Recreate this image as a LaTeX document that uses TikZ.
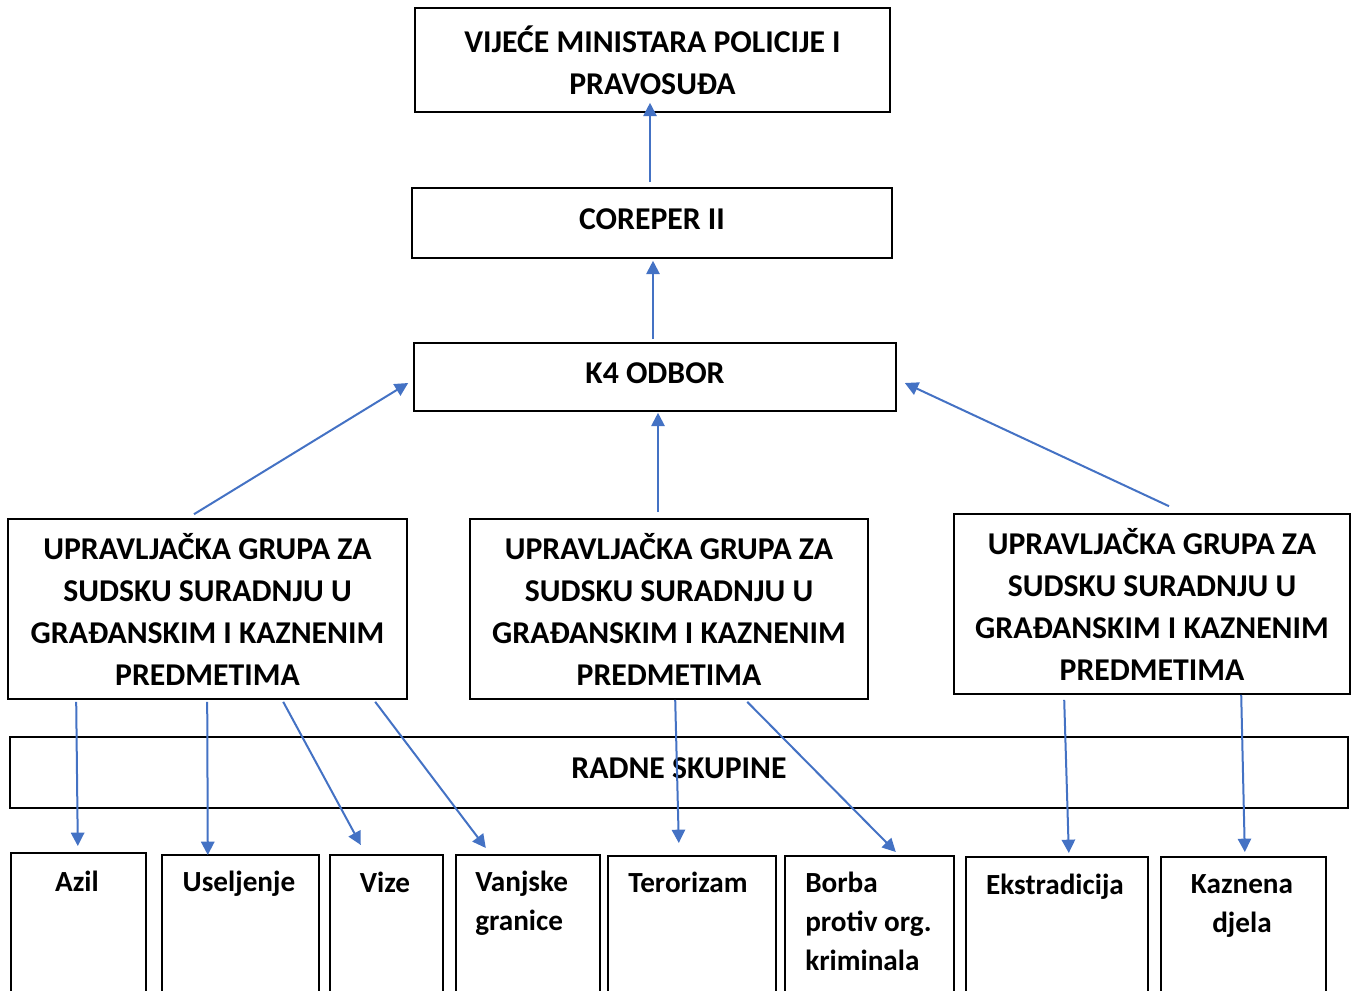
\documentclass[tikz,border=0pt]{standalone}
\usepackage{fontspec}
\setmainfont{Carlito}
\usetikzlibrary{arrows.meta}
\usetikzlibrary{calc}

\definecolor{arrblue}{HTML}{4472C4}

\tikzset{
  box/.style={draw, line width=1.2pt, rectangle, inner sep=0pt, align=center,
    font=\fontsize{23.8}{31.5}\selectfont\bfseries},
  onebox/.style={box, text depth=6.5pt},
  cell/.style={draw, line width=1.2pt, rectangle, inner sep=0pt, anchor=north west,
    minimum height=112pt},
  celltxt/.style={inner sep=0pt, font=\fontsize{21.9}{29.25}\selectfont\bfseries},
  arr/.style={->, >={Triangle[length=10pt,width=10pt]}, arrblue, line width=1.5pt}
}

\begin{document}
\begin{tikzpicture}[x=0.75pt,y=-0.75pt]
\useasboundingbox (0,0) rectangle (1352,991);
\clip (0,0) rectangle (1352,991);

% upper levels
\node[box, minimum width=356.25pt, minimum height=78pt] (vijece) at (652.5,60)
  {VIJEĆE MINISTARA POLICIJE I\\PRAVOSUĐA};
\node[onebox, minimum width=360pt, minimum height=52.5pt] (coreper) at (652,223) {COREPER II};
\node[onebox, minimum width=361.5pt, minimum height=51pt] (k4) at (655,377) {K4 ODBOR};

% steering groups
\node[box, minimum width=299.25pt, minimum height=135pt] (grpL) at (207.5,609)
  {UPRAVLJAČKA GRUPA ZA\\SUDSKU SURADNJU U\\GRAĐANSKIM I KAZNENIM\\PREDMETIMA};
\node[box, minimum width=298.5pt, minimum height=135pt] (grpM) at (669,609)
  {UPRAVLJAČKA GRUPA ZA\\SUDSKU SURADNJU U\\GRAĐANSKIM I KAZNENIM\\PREDMETIMA};
\node[box, minimum width=297pt, minimum height=135pt] (grpR) at (1152,604)
  {UPRAVLJAČKA GRUPA ZA\\SUDSKU SURADNJU U\\GRAĐANSKIM I KAZNENIM\\PREDMETIMA};

\node[onebox, minimum width=1003.5pt, minimum height=53.25pt] (radne) at (679,772.5) {RADNE SKUPINE};

% working groups
\node[cell, minimum width=101.25pt] (azil) at (10,852) {};
\node[cell, minimum width=117.75pt] (uselj) at (161,854) {};
\node[cell, minimum width=84.75pt] (vize) at (329,854) {};
\node[cell, minimum width=108pt] (vanjske) at (455,854) {};
\node[cell, minimum width=126pt] (teror) at (607,855) {};
\node[cell, minimum width=126.75pt] (borba) at (784,855) {};
\node[cell, minimum width=136.5pt] (ekstr) at (965,856) {};
\node[cell, minimum width=123.75pt] (kazn) at (1160,856) {};

\node[celltxt, anchor=north] (azilT) at (77,871) {Azil};
\node[celltxt, anchor=north] (ueljT) at (239,871) {Useljenje};
\node[celltxt, anchor=north] (vizeT) at (385,872) {Vize};
\node[celltxt, anchor=north west, align=left] (vanjskeT) at (475,871) {Vanjske\\granice};
\node[celltxt, anchor=north] (terorT) at (688,872) {Terorizam};
\node[celltxt, anchor=north west, align=left] (borbaT) at (805,872) {Borba\\protiv org.\\kriminala};
\node[celltxt, anchor=north] (ekstrT) at (1055,874) {Ekstradicija};
\node[celltxt, anchor=north, align=center] (kaznT) at (1242,874) {Kaznena\\djela};

% arrows up
\draw[arr] ($(coreper.north)+(-2,-5)$) -- ($(vijece.south)+(-2.5,-10)$);
\draw[arr] ($(k4.north)+(-2,-3)$) -- ($(coreper.south)+(1,2)$);
\draw[arr] ($(grpM.north)+(-11,-6)$) -- ($(k4.south)+(3,1)$);
\draw[arr] ($(grpL.north)+(-13.5,-4)$) -- ($(k4.west)+(-5,6)$);
\draw[arr] ($(grpR.north)+(17,-7)$) -- ($(k4.east)+(8,6)$);

% arrows down
\draw[arr] ($(grpL.south west)+(69,2)$) -- ($(azil.north)+(-0.5,-6)$);
\draw[arr] ($(grpL.south west)+(200,2)$) -- ($(uselj.north)+(-32.5,1)$);
\draw[arr] ($(grpL.south west)+(276,2)$) -- ($(vize.north)+(-25.5,-9)$);
\draw[arr] ($(grpL.south west)+(368,2)$) -- ($(vanjske.north)+(-42,-6)$);
\draw[arr] ($(grpM.south west)+(206,0)$) -- ($(teror.north)+(-13,-12)$);
\draw[arr] ($(grpM.south west)+(278,2)$) -- ($(borba.north)+(26.5,-3)$);
\draw[arr] ($(grpR.south west)+(111,5)$) -- ($(ekstr.north)+(12,-3)$);
\draw[arr] ($(grpR.south west)+(288,0)$) -- ($(kazn.north)+(1.5,-4)$);

\end{tikzpicture}
\end{document}
